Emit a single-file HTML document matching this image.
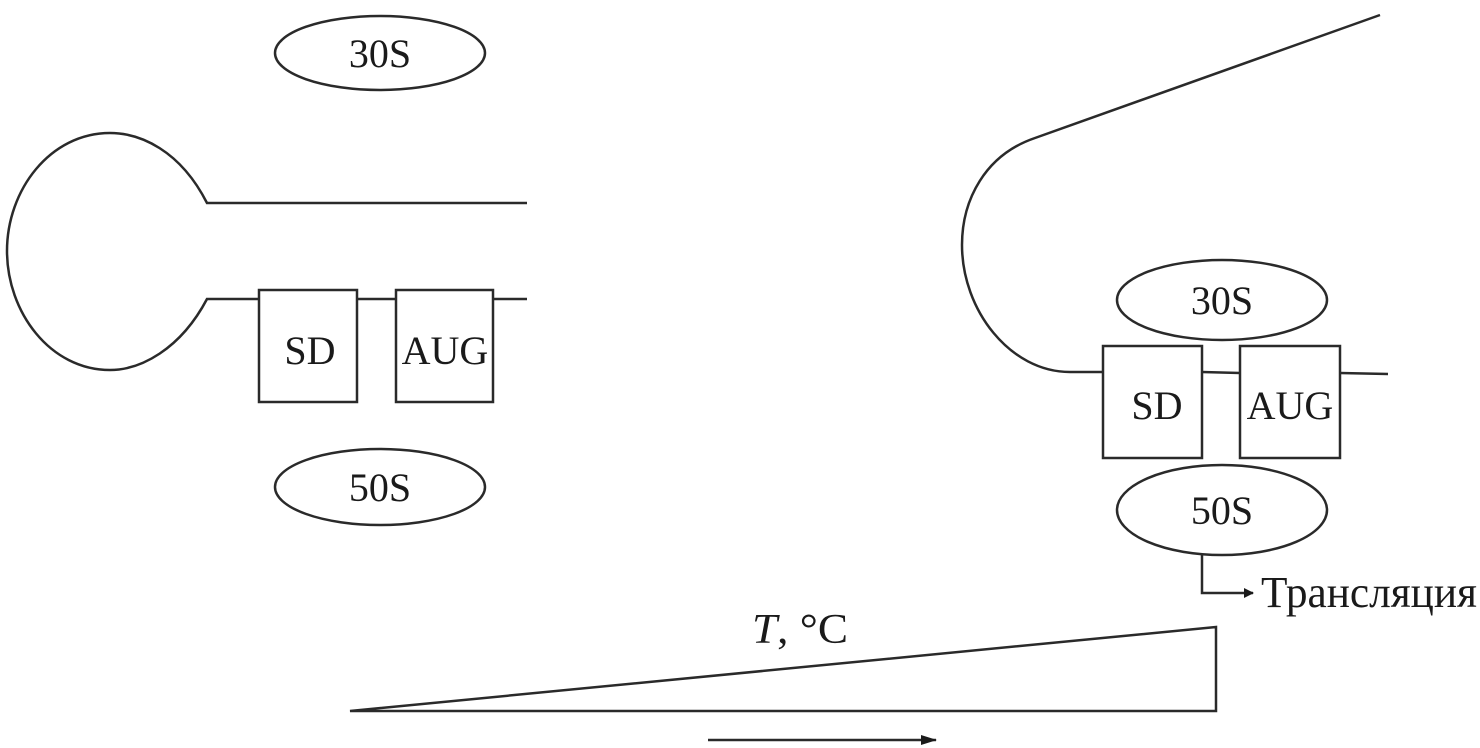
<!DOCTYPE html>
<html><head><meta charset="utf-8"><style>
html,body{margin:0;padding:0;background:#fff;}
svg{display:block;}
text{font-family:"Liberation Serif",serif;font-size:40px;fill:#1a1a1a;}
</style></head><body>
<svg width="1480" height="748" viewBox="0 0 1480 748" xmlns="http://www.w3.org/2000/svg">
<defs><marker id="ah" markerWidth="10" markerHeight="10" refX="9" refY="5" orient="auto" markerUnits="userSpaceOnUse"><path d="M0,0 L10,5 L0,10 z" fill="#1a1a1a"/></marker>
<marker id="ah2" markerWidth="16" markerHeight="12" refX="15" refY="6" orient="auto" markerUnits="userSpaceOnUse"><path d="M0,1 L16,6 L0,11 z" fill="#1a1a1a"/></marker></defs>
<g fill="none" stroke="#2a2a2a" stroke-width="2.5">
<ellipse cx="380" cy="53" rx="105" ry="37"/>
<path d="M527,203 L207,203 C180,150 140,133 110,133 C50,133 7,190 7,251 C7,312 50,370 110,370 C140,370 180,350 207,299 L259,299"/>
<path d="M357,299 L396,299 M493,299 L527,299"/>
<rect x="259" y="290" width="98" height="112"/>
<rect x="396" y="290" width="97" height="112"/>
<ellipse cx="380" cy="487" rx="105" ry="38"/>
<path d="M1380,15 L1035,138 C985,155 962,200 962,245 C962,310 1010,372 1070,372 L1103,372"/>
<path d="M1202,372 L1240,373 M1340,373 L1388,374"/>
<rect x="1103" y="346" width="99" height="112"/>
<rect x="1240" y="346" width="100" height="112"/>
<ellipse cx="1222" cy="300" rx="105" ry="40"/>
<ellipse cx="1222" cy="510" rx="105" ry="45"/>
<path d="M1202,555 L1202,593 L1253,593" marker-end="url(#ah)"/>
<path d="M350,711 L1216,627 L1216,711 Z"/>
<path d="M708,740 L936,740" stroke-width="2.5" marker-end="url(#ah2)"/>
</g>
<text x="380" y="67" text-anchor="middle">30S</text>
<text x="380" y="501" text-anchor="middle">50S</text>
<text x="310" y="364" text-anchor="middle">SD</text>
<text x="445" y="364" text-anchor="middle">AUG</text>
<text x="1222" y="314" text-anchor="middle">30S</text>
<text x="1222" y="524" text-anchor="middle">50S</text>
<text x="1157" y="419" text-anchor="middle">SD</text>
<text x="1290" y="419" text-anchor="middle">AUG</text>
<text x="1261" y="607" style="font-size:44px" textLength="216" lengthAdjust="spacingAndGlyphs">Трансляция</text>
<text x="752" y="643" style="font-size:42px" textLength="96" lengthAdjust="spacingAndGlyphs"><tspan font-style="italic">T</tspan>, °C</text>
</svg>
</body></html>
